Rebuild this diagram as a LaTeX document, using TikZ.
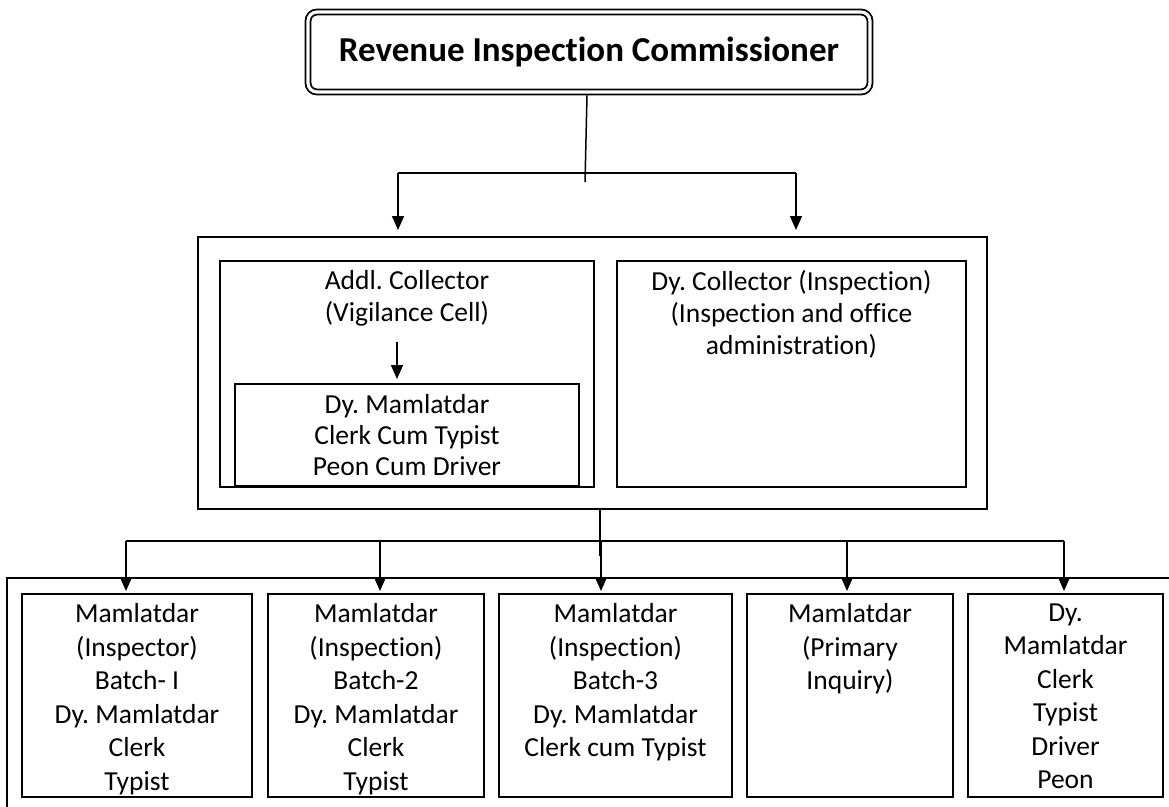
\documentclass[tikz,border=0pt]{standalone}
\usepackage{fontspec}
\setmainfont{Carlito}[Ligatures=NoCommon]
\usepackage{tikz}
\usetikzlibrary{arrows.meta}
\frenchspacing

\tikzset{
  box/.style={draw, line width=2.4pt, outer sep=0pt, inner sep=0pt, anchor=north west},
  dbox/.style={draw, double, line width=1.8pt, double distance=3.2pt, rounded corners=9pt,
    outer sep=3.4pt, inner sep=0pt},
  txt/.style={align=center, inner sep=0pt, anchor=north, font=\fontsize{27.5}{33.5}\selectfont,
    execute at begin node=\strut},
  conn/.style={line width=1.5pt},
  arr/.style={line width=1.5pt, -{Triangle[length=14pt,width=12pt]}}
}

\begin{document}
\begin{tikzpicture}[x=1pt,y=-1pt]
\fill[white] (0,0) rectangle (1169,806);
\useasboundingbox (0,0) rectangle (1169,806);

%%    NODES   %%
\node[dbox, minimum width=562, minimum height=80, font=\fontsize{35}{40}\selectfont\bfseries] (Comm) at (589,52) {Revenue Inspection Commissioner};

\node[box, minimum width=789, minimum height=272] (Mid) at (198,237) {};
\node[box, minimum width=374, minimum height=226] (Addl) at (220,261) {};
\node[box, minimum width=344, minimum height=102, align=center, font=\fontsize{27.5}{31}\selectfont] (AddlStaff) at (235,384) {Dy. Mamlatdar\\Clerk Cum Typist\\Peon Cum Driver};
\node[box, minimum width=349, minimum height=226] (DyColl) at (617,261) {};
\node[txt, font=\fontsize{27.5}{32}\selectfont] (AddlT) at (407,270) {Addl. Collector\\(Vigilance Cell)};
\node[txt, font=\fontsize{27.5}{32}\selectfont] (DyCollT) at (791.5,270) {Dy. Collector (Inspection)\\(Inspection and office\\administration)};

\begin{scope}
\clip (0,0) rectangle (1169,806);
\node[box, minimum width=1200, minimum height=260] (Low) at (7,578) {};
\end{scope}

\node[box, minimum width=230, minimum height=203] (Box1) at (22,594) {};
\node[box, minimum width=216, minimum height=203] (Box2) at (268,594) {};
\node[box, minimum width=233, minimum height=203] (Box3) at (499,594) {};
\node[box, minimum width=206, minimum height=203] (Box4) at (747,594) {};
\node[box, minimum width=195, minimum height=203] (Box5) at (968,594) {};

\node[txt] (Box1T) at (137,603.5) {Mamlatdar\\(Inspector)\\Batch- I\\Dy. Mamlatdar\\Clerk\\Typist};
\node[txt] (Box2T) at (376,603.5) {Mamlatdar\\(Inspection)\\Batch-2\\Dy. Mamlatdar\\Clerk\\Typist};
\node[txt] (Box3T) at (615.5,603.5) {Mamlatdar\\(Inspection)\\Batch-3\\Dy. Mamlatdar\\Clerk cum Typist};
\node[txt] (Box4T) at (850,603.5) {Mamlatdar\\(Primary\\Inquiry)};
\node[txt] (Box5T) at (1065.5,603.5) {Dy.\\Mamlatdar\\Clerk\\Typist\\Driver\\Peon};

\coordinate (TopJ) at (585,182);
\coordinate (BusL) at (398,173);
\coordinate (BusR) at (796,173);
\coordinate (VigA) at (397,342);
\coordinate (Trunk) at (600,556);
\coordinate (D1) at (126,541);
\coordinate (D2) at (380,541);
\coordinate (D3) at (601,541);
\coordinate (D4) at (847,541);
\coordinate (D5) at (1064,541);

%%    ARROWS    %%
\draw [conn] ([xshift=-2pt]Comm.south) -- (TopJ);
\draw [conn] (BusL) -- (BusR);
\draw [arr, shorten >=7pt] (BusL) -- (BusL |- Mid.north);
\draw [arr, shorten >=7pt] (BusR) -- (BusR |- Mid.north);
\draw [arr, shorten >=5pt] (VigA) -- (VigA |- AddlStaff.north);

\draw [conn] (Mid.south -| Trunk) -- (Trunk);
\draw [conn] (D1) -- (D5);
\draw [arr, shorten >=3pt] (D1) -- (D1 |- Box1.north);
\draw [arr, shorten >=3pt] (D2) -- (D2 |- Box2.north);
\draw [arr, shorten >=3pt] (D3) -- (D3 |- Box3.north);
\draw [arr, shorten >=3pt] (D4) -- (D4 |- Box4.north);
\draw [arr, shorten >=3pt] (D5) -- (D5 |- Box5.north);

\end{tikzpicture}
\end{document}
